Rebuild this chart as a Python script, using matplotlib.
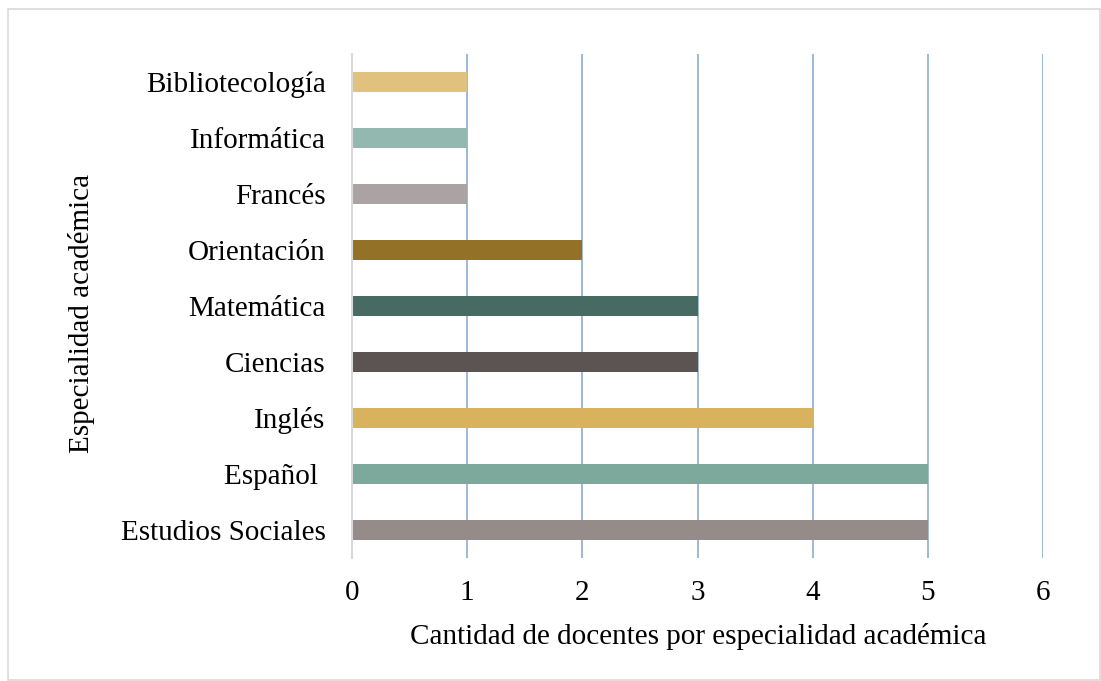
import matplotlib
matplotlib.use("Agg")
import matplotlib.pyplot as plt
from matplotlib.patches import Rectangle

categories = ["Estudios Sociales", "Español ", "Inglés", "Ciencias", "Matemática",
              "Orientación", "Francés", "Informática", "Bibliotecología"]
values = [5, 5, 4, 3, 3, 2, 1, 1, 1]
colors = ["#958B89", "#7DA89C", "#D8B25C", "#5C5353", "#476A62",
          "#937126", "#ABA3A3", "#93B8B0", "#E0C27E"]
xticks = [0, 1, 2, 3, 4, 5, 6]

plt.rcParams['font.family'] = ['Liberation Serif', 'DejaVu Serif']

fig = plt.figure(figsize=(11.01, 6.81), dpi=100)
W, H = 1101, 681
left, right, top, bottom = 352, 1043, 54, 558
ax = fig.add_axes([left / W, 1 - bottom / H, (right - left) / W, (bottom - top) / H])

y = list(range(len(categories)))
ax.barh(y, values, height=0.36, color=colors, zorder=3)
ax.set_xlim(0, 6)
ax.set_ylim(-0.5, len(categories) - 0.5)
ax.set_xticks(xticks)
ax.set_yticks(y)
ax.set_yticklabels(categories, fontsize=21)
ax.set_xticklabels([str(t) for t in xticks], fontsize=21)
ax.tick_params(axis='both', length=0)
ax.tick_params(axis='x', pad=16)
ax.tick_params(axis='y', pad=19)
ax.xaxis.grid(True, color="#9DB9D6", linewidth=1.4, zorder=0)
for s in ['top', 'right', 'bottom']:
    ax.spines[s].set_visible(False)
ax.spines['left'].set_color("#D9D9D9")
ax.spines['left'].set_linewidth(1.5)
ax.spines['left'].set_zorder(4)

fig.text(698 / W, 1 - 636 / H, "Cantidad de docentes por especialidad académica",
         ha='center', va='center', fontsize=21)
fig.text(82 / W, 1 - 313 / H, "Especialidad académica", ha='center', va='center',
         rotation=90, fontsize=21)

fig.patches.append(Rectangle((8 / W, 1 - 680 / H), (1100 - 8) / W, (680 - 9) / H,
                             transform=fig.transFigure, fill=False,
                             edgecolor="#D9D9D9", linewidth=1.2))

fig.savefig("out.png", dpi=100)
